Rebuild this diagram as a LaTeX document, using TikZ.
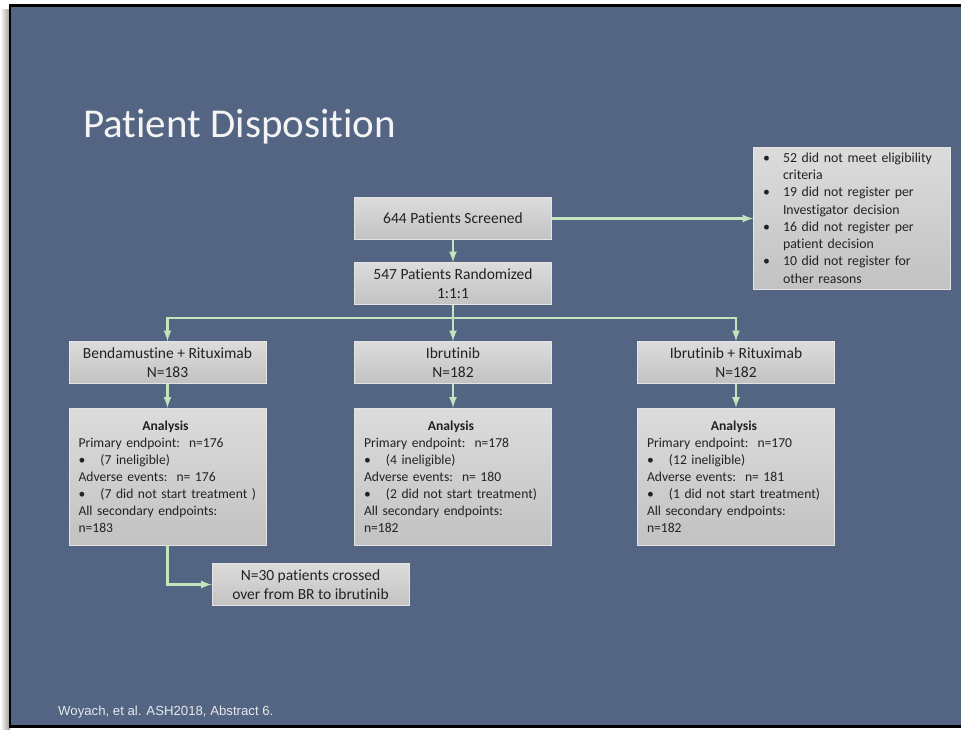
\documentclass[tikz,border=0pt]{standalone}
\usepackage{fontspec}
\setmainfont{Carlito}[Ligatures=NoCommon]
\newfontfamily\footfont{Liberation Sans}
\hyphenpenalty=10000
\definecolor{slidebg}{HTML}{536582}
\definecolor{boxtop}{HTML}{DCDCDC}
\definecolor{boxbot}{HTML}{C2C2C2}
\definecolor{boxline}{HTML}{E4E4E4}
\definecolor{boxtext}{HTML}{222222}
\definecolor{flowgreen}{HTML}{C3E4BC}
\definecolor{titlewhite}{HTML}{F4F4F4}
\begin{document}
\begin{tikzpicture}[x=1pt,y=-1pt,
  box/.style={draw=boxline, line width=0.8pt, top color=boxtop, bottom color=boxbot, text=boxtext, inner sep=0pt, align=center},
  armbox/.style={minimum width=197pt, minimum height=42pt, font=\fontsize{15.5}{18.5}\selectfont},
  analysisbox/.style={text width=178pt, align=left, minimum width=197pt, minimum height=137pt, font=\fontsize{13.6}{17}\selectfont},
  flow/.style={draw=flowgreen, line width=2.6pt, -latex},
  flowline/.style={draw=flowgreen, line width=2.6pt}]
  \useasboundingbox (0,0) rectangle (961,729);
  \newcommand{\armcolumn}[9]{%
    \begin{scope}[shift={(#1,0)}]
      % Arm box
      \node[box, armbox] (#2) at (0,362.5) {#3\\N=#4};
      % Analysis box
      \node[box, analysisbox] (#2-analysis) at (0,476.5) {\makebox[174pt]{\bfseries Analysis}\\Primary endpoint:\ \ n=#5\\\makebox[22pt][l]{\textbullet}\mbox{(#6)}\\Adverse events:\ \ n= #7\\\makebox[22pt][l]{\textbullet}\mbox{(#8)}\\All secondary endpoints:\\n=#9};
    \end{scope}
  }
  % Page shadow and slide
  \shade[left color=white, right color=black!40] (0,9) rectangle (10,729);
  \draw[fill=slidebg, line width=2.4pt] (10,5.5) rectangle (970,726.5);
  % Title
  \node[anchor=base west, inner sep=0pt, text=titlewhite, font=\fontsize{41}{48}\selectfont] (title) at (83,137) {Patient Disposition};
  % Screening and randomization
  \node[box, armbox] (scr) at (453,218.5) {644 Patients Screened};
  \node[box, armbox] (rand) at (453,283.5) {547 Patients Randomized\\1:1:1};
  \node[box, text width=178pt, align=left, minimum width=197pt, minimum height=142pt, font=\fontsize{13.8}{17.3}\selectfont] (excl) at (852,218)
    {\makebox[20pt][l]{\textbullet}52 did not meet eligibility\\\hspace*{20pt}criteria\\
     \makebox[20pt][l]{\textbullet}19 did not register per\\\hspace*{20pt}Investigator decision\\
     \makebox[20pt][l]{\textbullet}16 did not register per\\\hspace*{20pt}patient decision\\
     \makebox[20pt][l]{\textbullet}10 did not register for\\\hspace*{20pt}other reasons};
  % Arms
  \armcolumn{167.5}{br}{Bendamustine + Rituximab}{183}{176}{7 ineligible}{176}{7 did not start treatment }{183}
  \armcolumn{453}{ib}{Ibrutinib}{182}{178}{4 ineligible}{180}{2 did not start treatment}{182}
  \armcolumn{736}{ir}{Ibrutinib + Rituximab}{182}{170}{12 ineligible}{181}{1 did not start treatment}{182}
  % Crossover
  \node[box, armbox] (cross) at (310.5,584.5) {N=30 patients crossed\\over from BR to ibrutinib};
  % Connectors
  \draw[flow] (scr.east) -- (excl.west |- scr.east);
  \draw[flow] (scr) -- (rand);
  \coordinate (split) at (453,318);
  \draw[flowline] (rand.south) -- (split);
  \draw[flow] (split) -| (br.north);
  \draw[flow] (split) -- (ib.north);
  \draw[flow] (split) -| (ir.north);
  \foreach \arm in {br,ib,ir} {\draw[flow] (\arm) -- (\arm-analysis);}
  \draw[flow] (br-analysis.south) |- (cross.west);
  % Reference
  \node[anchor=base west, inner sep=0pt, text=white!85!slidebg, font=\footfont\fontsize{13.2}{15}\selectfont] (cite) at (58,715) {Woyach, et al. ASH2018, Abstract 6.};
\end{tikzpicture}
\end{document}
